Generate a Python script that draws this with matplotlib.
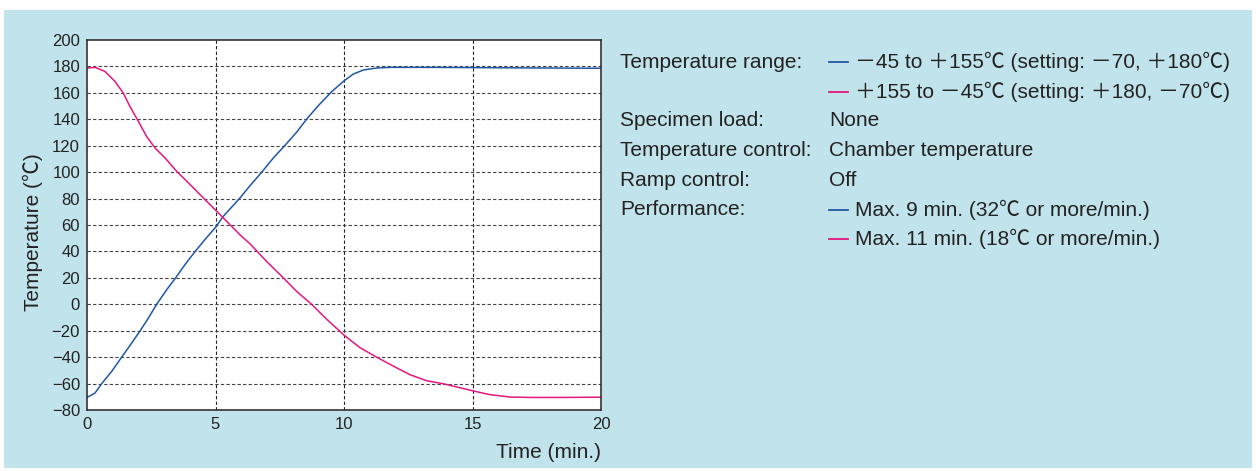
import matplotlib.pyplot as plt
from matplotlib.patches import Rectangle
from matplotlib.ticker import FuncFormatter

# datos (tiempo en min, temperatura en grados C)
t_subida = [0, 0.31, 0.57, 0.96, 1.35, 1.74, 2.06, 2.39, 2.71, 3.1, 3.45, 3.81, 4.2, 4.59,
            5.0, 5.3, 5.95, 6.34, 6.8, 7.25, 7.7, 8.16, 8.55, 9.0, 9.52, 10.01, 10.36, 10.75,
            11.27, 11.79, 13.35, 16.0, 20]
temp_subida = [-70.5, -67.2, -60.1, -50.8, -40, -29.3, -20.3, -10.4, 0, 11, 20, 30, 39.8, 49,
               58.2, 66.5, 80.4, 89.7, 100, 110.7, 120.2, 130.3, 140.2, 150.3, 160.9, 169.2,
               174.2, 177.3, 178.8, 179.3, 179.3, 179.0, 178.6]

t_bajada = [0, 0.05, 0.31, 0.70, 1.09, 1.41, 1.67, 2.0, 2.32, 2.65, 3.04, 3.49, 4.07, 4.53,
            5.0, 5.5, 5.95, 6.34, 6.99, 7.64, 8.16, 8.74, 9.33, 10.01, 10.62, 11.27, 11.92,
            12.57, 13.22, 13.86, 14.39, 14.99, 15.68, 16.46, 17.24, 18.5, 20]
temp_bajada = [178.5, 178.8, 179.3, 176.2, 168.6, 159.9, 149.7, 138.4, 127, 118.2, 110.7,
               100.6, 89.5, 80.4, 71.3, 61.5, 52.6, 45.8, 32.4, 20, 9.7, 0, -11.4, -23.5,
               -32.8, -40, -46.8, -53.3, -57.9, -60.1, -62.6, -65.4, -68.4, -70.2, -70.5,
               -70.5, -70.3]

y_ticks = list(range(-80, 201, 20))
x_ticks = [0, 5, 10, 15, 20]

texto_etiquetas = ['Temperature range:', '', 'Specimen load:', 'Temperature control:',
                   'Ramp control:', 'Performance:', '']
texto_valores = ['－45 to ＋155℃ (setting: －70, ＋180℃)',
                 '＋155 to －45℃ (setting: ＋180, －70℃)',
                 'None', 'Chamber temperature', 'Off',
                 'Max. 9 min. (32℃ or more/min.)',
                 'Max. 11 min. (18℃ or more/min.)']
texto_colores = ['azul', 'rosa', None, None, None, 'azul', 'rosa']

azul = '#1f57a6'
rosa = '#e5177e'
fondo = '#c1e3eb'
fuentes = ['Liberation Sans', 'Noto Sans CJK JP']
plt.rcParams['font.family'] = fuentes

fig = plt.figure(figsize=(12.56, 4.71), dpi=100)
fig.patch.set_facecolor('white')
fig.add_artist(Rectangle((4 / 1256, 3 / 471), 1248 / 1256, 458 / 471,
                         transform=fig.transFigure, facecolor=fondo, edgecolor='none', zorder=0))

ax = fig.add_axes([87 / 1256, 1 - 410 / 471, 514 / 1256, 370 / 471])
ax.set_facecolor('white')
ax.plot(t_subida, temp_subida, color=azul, lw=1.1)
ax.plot(t_bajada, temp_bajada, color=rosa, lw=1.1)
ax.set_xlim(0, 20)
ax.set_ylim(-80, 200)
ax.set_xticks(x_ticks)
ax.set_yticks(y_ticks)
ax.yaxis.set_major_formatter(FuncFormatter(lambda v, p: ('−' if v < 0 else '') + str(abs(int(v)))))
ax.tick_params(length=0, labelsize=12, colors='#222', pad=5)

# rejilla punteada
for x in x_ticks[1:-1]:
    ax.axvline(x, color='#222', lw=0.8, ls=(0, (3, 2)), zorder=0)
for y in y_ticks[1:-1]:
    ax.axhline(y, color='#444', lw=0.8, ls=(0, (3, 2)), zorder=0)

for s in ax.spines.values():
    s.set_color('#333')
    s.set_linewidth(1.2)

ax.set_ylabel('Temperature (℃)', fontsize=15, color='#222')
ax.yaxis.set_label_coords(-0.085, 0.48)
ax.set_xlabel('Time (min.)', fontsize=15, color='#222', loc='right', labelpad=8)

# bloque de texto a la derecha
y0 = 62
paso = 29.5
for i in range(len(texto_etiquetas)):
    yy = 1 - (y0 + i * paso) / 471
    fig.text(620 / 1256, yy, texto_etiquetas[i], fontsize=15, color='#222', va='center')
    if texto_colores[i] is None:
        fig.text(829 / 1256, yy, texto_valores[i], fontsize=15, color='#222', va='center')
    else:
        c = azul if texto_colores[i] == 'azul' else rosa
        fig.add_artist(plt.Line2D([829 / 1256, 848 / 1256], [yy, yy], color=c, lw=1.3,
                                  transform=fig.transFigure))
        fig.text(855 / 1256, yy, texto_valores[i], fontsize=15, color='#222', va='center')

fig.savefig('out.png', dpi=100, facecolor='white')
